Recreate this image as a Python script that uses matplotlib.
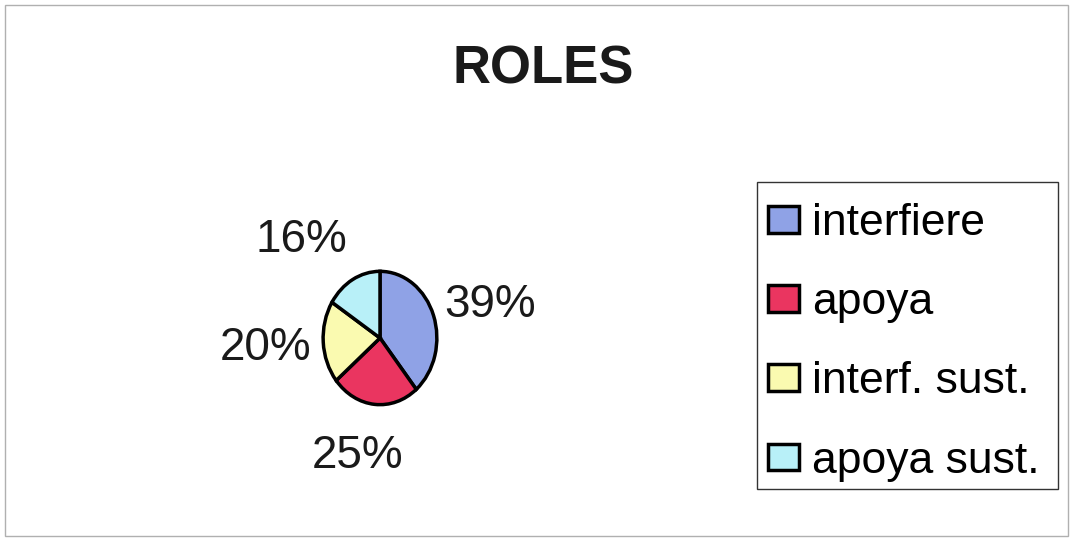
import matplotlib
matplotlib.use('agg')
import matplotlib.pyplot as plt
from matplotlib.patches import Rectangle
import matplotlib.transforms as mtransforms

# data
roles = ['interfiere', 'apoya', 'interf. sust.', 'apoya sust.']
shares = [39, 25, 20, 16]
colors = ['#8fa2e6', '#ea3560', '#fafab0', '#b8f0f8']
# small nudges (pixels, right/down) of the percent labels, as placed in the original
label_nudge = [(8, 10), (-12, -8), (-7, 2), (-27, 13)]

plt.rcParams['font.family'] = ['Liberation Sans', 'DejaVu Sans']

W, H = 1073, 541
fig = plt.figure(figsize=(W / 100, H / 100), dpi=100)
fig.patch.set_facecolor('white')


def px_rect(x0, y0, x1, y1, **kw):
    # rectangle given in pixel corners (top-left origin)
    return Rectangle((x0 / W, 1 - y1 / H), (x1 - x0) / W, (y1 - y0) / H,
                     transform=fig.transFigure, fill=False, **kw)


# outer chart border
fig.patches.append(px_rect(5, 5, 1068, 536, edgecolor='#b0b0b0', linewidth=1))

fig.text(543 / W, 1 - 69 / H, 'ROLES', ha='center', va='center',
         fontsize=38, fontweight='bold', color='#1a1a1a')

# pie axes (slightly taller than wide, as in the picture)
cx, cy, rx, ry = 380, 338, 58, 68
ax = fig.add_axes([(cx - rx) / W, 1 - (cy + ry) / H, 2 * rx / W, 2 * ry / H])
wedges, texts, autotexts = ax.pie(
    shares, colors=colors, startangle=90, counterclock=False,
    autopct='%1.0f%%', pctdistance=1.9,
    wedgeprops=dict(edgecolor='black', linewidth=2.5),
    textprops=dict(fontsize=33, color='#1a1a1a'))
ax.set_aspect('auto')
ax.set_xlim(-1.02, 1.02)
ax.set_ylim(-1.02, 1.02)
ax.axis('off')

for t, (dx, dy) in zip(autotexts, label_nudge):
    off = mtransforms.ScaledTranslation(dx / 100, -dy / 100, fig.dpi_scale_trans)
    t.set_transform(ax.transData + off)

# legend box drawn separately so the padding matches the original
fig.patches.append(px_rect(757, 182, 1058, 489, edgecolor='#333333', linewidth=1))
leg = fig.legend(wedges, roles, loc='upper left',
                 bbox_to_anchor=(768 / W, 1 - 203 / H),
                 fontsize=32, frameon=False,
                 handlelength=0.7, handleheight=0.55, handletextpad=0.3,
                 labelspacing=0.86, borderpad=0, borderaxespad=0)
for h in leg.legend_handles:
    h.set_linewidth(2.5)

fig.savefig('out.png', dpi=100, facecolor='white')
